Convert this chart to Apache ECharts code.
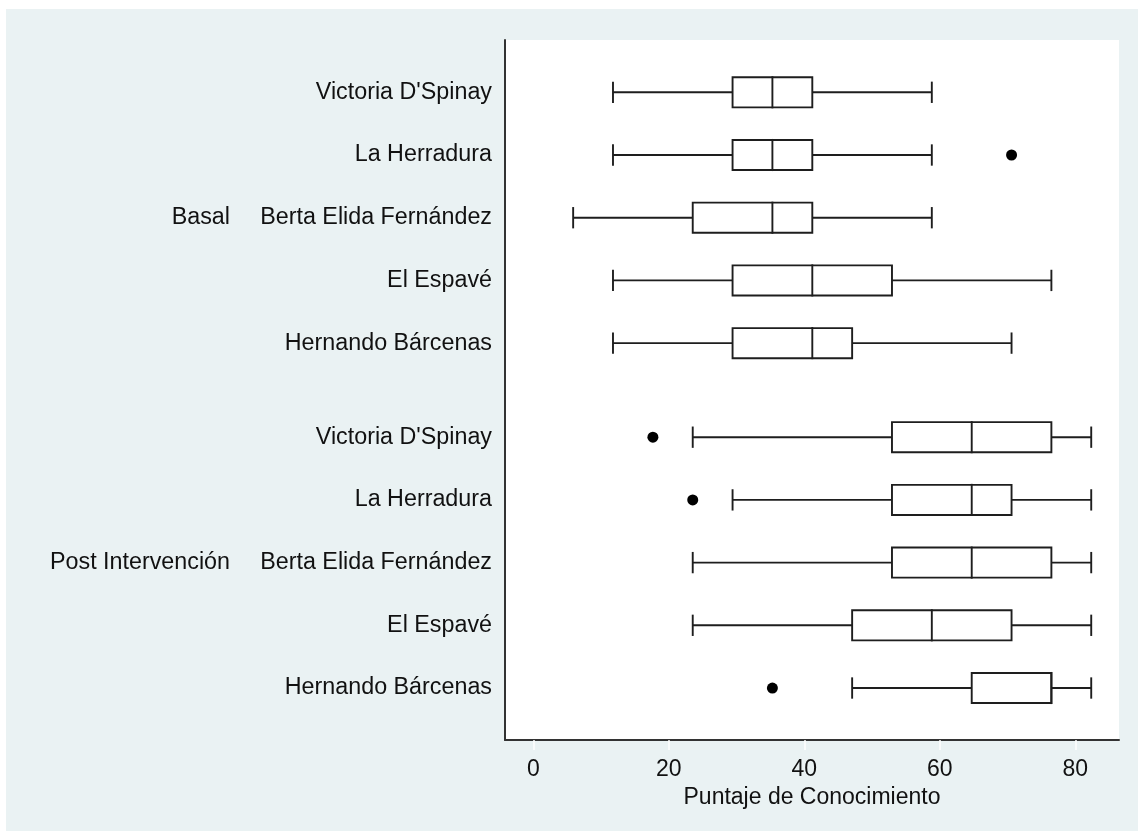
<!DOCTYPE html>
<html>
<head>
<meta charset="utf-8">
<script src="https://cdn.jsdelivr.net/npm/echarts@6/dist/echarts.min.js"></script>
<style>
html,body{margin:0;padding:0;background:#ffffff;}
#chart{width:1143px;height:834px;}
</style>
</head>
<body>
<div id="chart"></div>
<script>
// ---- Data ----
const schools = ["Victoria D'Spinay", "La Herradura", "Berta Elida Fernández", "El Espavé", "Hernando Bárcenas"];
const groups = ["Basal", "Post Intervención"];

const basalMin = [11.76, 11.76, 5.88, 11.76, 11.76];
const basalQ1  = [29.41, 29.41, 23.53, 29.41, 29.41];
const basalMed = [35.29, 35.29, 35.29, 41.18, 41.18];
const basalQ3  = [41.18, 41.18, 41.18, 52.94, 47.06];
const basalMax = [58.82, 58.82, 58.82, 76.47, 70.59];
const basalOutliers = [[1, 70.59]]; // [school index, value]

const postMin = [23.53, 29.41, 23.53, 23.53, 47.06];
const postQ1  = [52.94, 52.94, 52.94, 47.06, 64.71];
const postMed = [64.71, 64.71, 64.71, 58.82, 76.47];
const postQ3  = [76.47, 70.59, 76.47, 70.59, 76.47];
const postMax = [82.35, 82.35, 82.35, 82.35, 82.35];
const postOutliers = [[0, 17.65], [1, 23.53], [4, 35.29]];

const xTicks = [0, 20, 40, 60, 80];
const xTitle = "Puntaje de Conocimiento";

// ---- Layout helpers (row positions on the vertical value scale) ----
const groupStep = schools.length + 0.5;
function rowPos(g, i) { return g * groupStep + i; }

const boxData = [];
const outlierData = [];
const rowLabelMap = {};
const rowValues = [];
const groupSets = [
  {min: basalMin, q1: basalQ1, med: basalMed, q3: basalQ3, max: basalMax, out: basalOutliers},
  {min: postMin, q1: postQ1, med: postMed, q3: postQ3, max: postMax, out: postOutliers}
];
const groupLabelMap = {};
const groupValues = [];
groupSets.forEach((s, g) => {
  schools.forEach((name, i) => {
    const p = rowPos(g, i);
    boxData.push([s.min[i], p, s.q1[i], s.med[i], s.q3[i], s.max[i]]);
    rowLabelMap[p.toFixed(2)] = name;
    rowValues.push(p);
  });
  s.out.forEach(o => outlierData.push([o[1], rowPos(g, o[0])]));
  const mid = rowPos(g, (schools.length - 1) / 2);
  groupLabelMap[mid.toFixed(2)] = groups[g];
  groupValues.push(mid);
});

const FONT = "'Liberation Sans', Arial, sans-serif";
const INK = '#111111';
const LINE = '#1e1e1e';
const LW = 1.9;

const chart = echarts.init(document.getElementById('chart'), null, {renderer: 'canvas'});

chart.setOption({
  animation: false,
  backgroundColor: '#ffffff',
  graphic: [{
    type: 'rect', z: -10, silent: true,
    shape: {x: 6, y: 9, width: 1132, height: 822},
    style: {fill: '#eaf2f3'}
  }],
  grid: {
    left: 505, top: 40, width: 614, height: 700,
    show: true, backgroundColor: '#ffffff', borderWidth: 0
  },
  xAxis: {
    type: 'value', min: -4.18, max: 86.45,
    axisLine: {show: true, onZero: false, lineStyle: {color: '#333', width: 2}},
    axisTick: {show: true, customValues: xTicks, length: 10, lineStyle: {color: '#ffffff', width: 1.5}},
    axisLabel: {customValues: xTicks, margin: 18, fontFamily: FONT, fontSize: 23, color: INK},
    splitLine: {show: false},
    name: xTitle, nameLocation: 'middle', nameGap: 39,
    nameTextStyle: {fontFamily: FONT, fontSize: 23, color: INK}
  },
  yAxis: [{
    type: 'value', inverse: true, min: -0.834, max: 10.329,
    axisLine: {show: true, onZero: false, lineStyle: {color: '#333', width: 2}},
    axisTick: {show: false},
    splitLine: {show: false},
    axisLabel: {
      customValues: rowValues, margin: 13, fontFamily: FONT, fontSize: 23.3, color: INK,
      formatter: v => rowLabelMap[Number(v).toFixed(2)] || ''
    }
  }, {
    type: 'value', inverse: true, min: -0.834, max: 10.329,
    position: 'left', offset: 267,
    axisLine: {show: false}, axisTick: {show: false}, splitLine: {show: false},
    axisLabel: {
      customValues: groupValues, margin: 8, fontFamily: FONT, fontSize: 23.3, color: INK,
      formatter: v => groupLabelMap[Number(v).toFixed(2)] || ''
    }
  }],
  series: [{
    type: 'custom',
    xAxisIndex: 0, yAxisIndex: 0,
    encode: {x: [0, 2, 3, 4, 5], y: 1},
    data: boxData,
    renderItem: function (params, api) {
      const y = api.value(1);
      const pMin = api.coord([api.value(0), y]);
      const pQ1 = api.coord([api.value(2), y]);
      const pMed = api.coord([api.value(3), y]);
      const pQ3 = api.coord([api.value(4), y]);
      const pMax = api.coord([api.value(5), y]);
      const unit = api.size([0, 1])[1];
      const bh = unit * 0.24;   // half box height
      const ch = unit * 0.17;   // half cap height
      const cy = pMin[1];
      const st = {stroke: LINE, lineWidth: LW, fill: null};
      return {
        type: 'group',
        children: [
          {type: 'line', shape: {x1: pMin[0], y1: cy, x2: pQ1[0], y2: cy}, style: st},
          {type: 'line', shape: {x1: pQ3[0], y1: cy, x2: pMax[0], y2: cy}, style: st},
          {type: 'line', shape: {x1: pMin[0], y1: cy - ch, x2: pMin[0], y2: cy + ch}, style: st},
          {type: 'line', shape: {x1: pMax[0], y1: cy - ch, x2: pMax[0], y2: cy + ch}, style: st},
          {type: 'rect', shape: {x: pQ1[0], y: cy - bh, width: pQ3[0] - pQ1[0], height: 2 * bh},
            style: {stroke: LINE, lineWidth: LW, fill: '#ffffff'}},
          {type: 'line', shape: {x1: pMed[0], y1: cy - bh - 1, x2: pMed[0], y2: cy + bh + 1}, style: st}
        ]
      };
    }
  }, {
    type: 'scatter',
    xAxisIndex: 0, yAxisIndex: 0,
    data: outlierData,
    symbol: 'circle', symbolSize: 11,
    itemStyle: {color: '#000000', opacity: 1}
  }]
});
</script>
</body>
</html>
